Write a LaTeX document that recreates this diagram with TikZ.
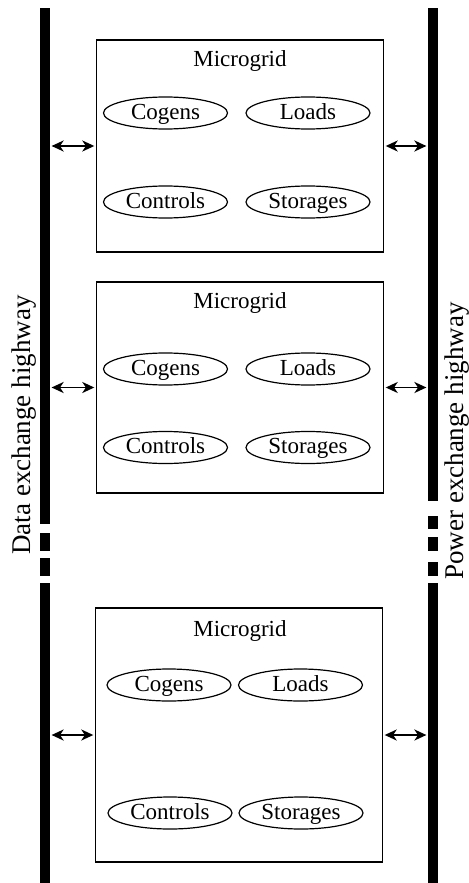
\documentclass[tikz,border=0pt]{standalone}
\usepackage{fontspec}
\setmainfont{Liberation Serif}
\usetikzlibrary{arrows.meta,shapes.geometric}

\begin{document}
\begin{tikzpicture}[x=0.5pt,y=-0.5pt,
    mgbox/.style={draw, line width=0.6pt, minimum width=143.5pt, inner sep=0pt},
    part/.style={draw, ellipse, line width=0.6pt, minimum width=62pt, minimum height=16pt,
      inner sep=0pt, text height=8.2pt, text depth=1.8pt, font=\fontsize{11.5}{13}\selectfont},
    title/.style={font=\fontsize{11.5}{13}\selectfont},
    highway/.style={rotate=90, inner sep=0pt, font=\fontsize{13.5}{16}\selectfont},
    link/.style={<->, >={Stealth[length=6pt,width=5.5pt,inset=1.8pt]}, line width=0.9pt,
      shorten <=0.8pt, shorten >=0.8pt}]
    \useasboundingbox (0,0) rectangle (469,883);

    % the two highways
    \foreach \a/\b in {8/524,533/551,558/576,583/883} {\fill (40,\a) rectangle (50,\b);}
    \foreach \a/\b in {8/501,516/529,537/551,562/576,583/883} {\fill (428,\a) rectangle (438,\b);}
    \coordinate (dbar) at (50,0);
    \coordinate (pbar) at (428,0);
    \node[highway] (data) at (24.5,425) {Data exchange highway};
    \node[highway] (power) at (457,441) {Power exchange highway};

    % first microgrid
    \node[mgbox, minimum height=106pt] (mg1) at (240,146) {};
    \node[title] (t1) at (240,61) {Microgrid};
    \node[part] (cog1) at (165.5,113) {Cogens};
    \node[part] (load1) at (308,113) {Loads};
    \node[part] (ctrl1) at (165.5,202) {Controls};
    \node[part] (stor1) at (308,202) {Storages};

    % second microgrid
    \node[mgbox, minimum height=105.5pt] (mg2) at (240,387.5) {};
    \node[title] (t2) at (240,303.5) {Microgrid};
    \node[part] (cog2) at (165.5,369) {Cogens};
    \node[part] (load2) at (308,369) {Loads};
    \node[part] (ctrl2) at (165.5,447.5) {Controls};
    \node[part] (stor2) at (308,447.5) {Storages};

    % last microgrid
    \node[mgbox, minimum height=127pt] (mg3) at (239,735) {};
    \node[title] (t3) at (240,631) {Microgrid};
    \node[part] (cog3) at (169,685) {Cogens};
    \node[part] (load3) at (300.5,685) {Loads};
    \node[part] (ctrl3) at (170,813) {Controls};
    \node[part] (stor3) at (301,813) {Storages};

    \foreach \m in {mg1,mg2,mg3} {
      \draw[link] (dbar |- \m.west) -- (\m.west);
      \draw[link] (\m.east) -- (pbar |- \m.east);
    }
\end{tikzpicture}
\end{document}
